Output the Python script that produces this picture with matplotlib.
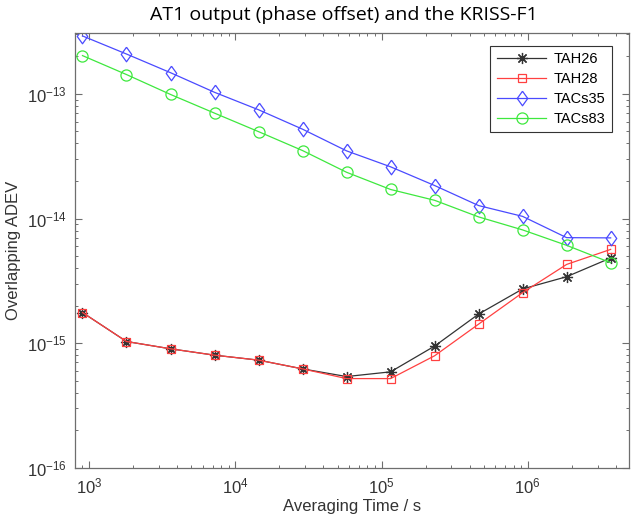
import numpy as np
import matplotlib
matplotlib.use("Agg")
import matplotlib.pyplot as plt
from matplotlib.ticker import LogLocator, FixedLocator, NullFormatter

plt.rcParams['font.family'] = ['Liberation Sans', 'DejaVu Sans']
plt.rcParams['mathtext.default'] = 'regular'

# averaging times (s)
tau = [900, 1800, 3600, 7200, 14400, 28800, 57600, 115200,
       230400, 460800, 921600, 1843200, 3686400]

tah26 = [1.76e-15, 1.03e-15, 9.0e-16, 8.0e-16, 7.3e-16, 6.21e-16, 5.39e-16,
         5.88e-16, 9.46e-16, 1.71e-15, 2.72e-15, 3.41e-15, 4.82e-15]
tah28 = [1.76e-15, 1.03e-15, 9.0e-16, 8.0e-16, 7.3e-16, 6.21e-16, 5.19e-16,
         5.19e-16, 7.91e-16, 1.42e-15, 2.54e-15, 4.28e-15, 5.65e-15]
tacs35 = [2.92e-13, 2.09e-13, 1.48e-13, 1.03e-13, 7.46e-14, 5.21e-14, 3.49e-14,
          2.60e-14, 1.84e-14, 1.27e-14, 1.04e-14, 7.02e-15, 6.99e-15]
tacs83 = [2.03e-13, 1.43e-13, 9.9e-14, 7.01e-14, 4.98e-14, 3.51e-14, 2.35e-14,
          1.71e-14, 1.40e-14, 1.03e-14, 8.1e-15, 6.09e-15, 4.42e-15]

x_major = [1e3, 1e4, 1e5, 1e6]
y_major = [1e-16, 1e-15, 1e-14, 1e-13]

diamond = [(0, 1), (0.72, 0), (0, -1), (-0.72, 0), (0, 1)]

fig = plt.figure(figsize=(6.35, 5.28), dpi=100)
ax = fig.add_axes([0.1181, 0.1142, 0.872, 0.8239])

lw = 0.9
ax.plot(tau, tah26, color='#333333', lw=lw, marker=(8, 2, 0), ms=8, mew=0.9,
        label='TAH26')
ax.plot(tau, tah28, color='#ff4040', lw=lw, marker='s', ms=6, mfc='none', mew=0.9,
        label='TAH28')
ax.plot(tau, tacs35, color='#4a4aff', lw=lw, marker=diamond, ms=10.5, mfc='none', mew=0.9,
        label='TACs35')
ax.plot(tau, tacs83, color='#3ee83e', lw=lw, marker='o', ms=8, mfc='none', mew=0.9,
        label='TACs83')

ax.set_xscale('log')
ax.set_yscale('log')
ax.set_xlim(800, 4.9e6)
ax.set_ylim(1e-16, 3.1e-13)

ax.xaxis.set_major_locator(FixedLocator(x_major))
ax.yaxis.set_major_locator(FixedLocator(y_major))
ax.xaxis.set_minor_locator(LogLocator(base=10, subs=np.arange(2, 10), numticks=20))
ax.yaxis.set_minor_locator(LogLocator(base=10, subs=np.arange(2, 10), numticks=20))
ax.xaxis.set_minor_formatter(NullFormatter())
ax.yaxis.set_minor_formatter(NullFormatter())

for s in ax.spines.values():
    s.set_color('#6e6e6e')
    s.set_linewidth(0.9)
ax.tick_params(which='both', direction='in', top=True, right=True,
               colors='#6e6e6e', labelcolor='#333333', labelsize=12)
ax.tick_params(which='major', length=5, width=0.8, pad=6)
ax.tick_params(which='minor', length=2.5, width=0.7)

ax.set_xlabel('Averaging Time / s', fontsize=12, color='#333333', labelpad=2)
ax.set_ylabel('Overlapping ADEV', fontsize=12, color='#333333', labelpad=4)

fig.text(0.541, 0.972, 'AT1 output (phase offset) and the KRISS-F1',
         ha='center', va='center', fontsize=14, family=['Open Sans', 'DejaVu Sans'])

leg = ax.legend(loc='upper right', bbox_to_anchor=(0.97, 0.97), fontsize=10.5,
                fancybox=False, framealpha=1, edgecolor='#333333',
                handlelength=3.4, borderpad=0.45, labelspacing=0.4,
                handletextpad=0.5, borderaxespad=0)
leg.get_frame().set_linewidth(0.8)

fig.savefig('out.png', dpi=100)
